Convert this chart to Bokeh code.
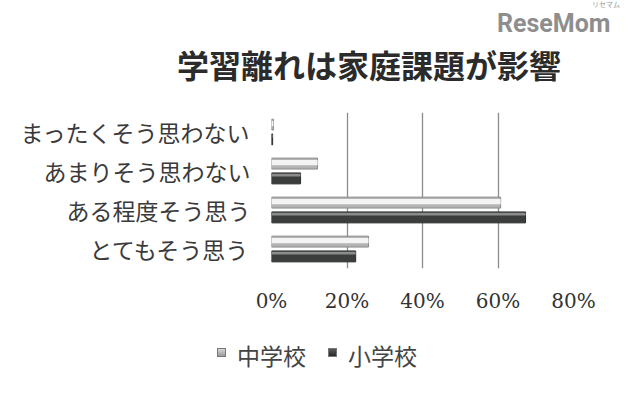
from bokeh.plotting import figure
from bokeh.layouts import column
from bokeh.models import Range1d, FactorRange, Div, FixedTicker, ColumnDataSource
from bokeh.transform import dodge
from bokeh.embed import file_html
from bokeh.resources import INLINE

# ---- data ----
categories = ["とてもそう思う", "ある程度そう思う", "あまりそう思わない", "まったくそう思わない"]
junior_high = [25.7, 60.7, 12.2, 0.5]   # 中学校
elementary = [22.3, 67.3, 7.7, 0.3]     # 小学校
series_names = ["中学校", "小学校"]
x_ticks = [0, 20, 40, 60, 80]
x_tick_labels = ["0%", "20%", "40%", "60%", "80%"]
chart_title = "学習離れは家庭課題が影響"
logo_text = "ReseMom"
logo_kana = "リセマム"

src = ColumnDataSource(dict(cat=categories, jh=junior_high, el=elementary))

JP = "Noto Sans CJK JP"
JH_COLOR = "#b4b4b4"
EL_COLOR = "#3a3d3c"

# ---- header strip: title + logo ----
header = Div(text=(
    f'<div style="position:relative;width:624px;height:112px;">'
    f'<div style="position:absolute;left:497px;top:12px;font-family:Roboto;font-weight:bold;'
    f'font-size:25px;line-height:24px;color:#8e8e8e;white-space:nowrap">{logo_text}</div>'
    f'<div style="position:absolute;left:592px;top:1px;font-family:\'{JP}\';'
    f'font-size:7px;line-height:7px;color:#9a9a9a;white-space:nowrap">{logo_kana}</div>'
    f'<div style="position:absolute;left:177px;top:48px;font-family:\'{JP}\';font-weight:bold;'
    f'font-size:32px;line-height:32px;color:#2b2b2b;white-space:nowrap">{chart_title}</div>'
    f'</div>'), width=624, height=112, margin=0)

# ---- chart ----
p = figure(width=624, height=218, output_backend="svg", toolbar_location=None, title=None,
           x_range=Range1d(0, 80), y_range=FactorRange(*categories),
           min_border_left=271, min_border_right=51, min_border_top=0, min_border_bottom=62,
           outline_line_color=None, background_fill_color="white", border_fill_color="white")

# bars: 中学校 (light) above, 小学校 (dark) below
p.hbar(y=dodge("cat", 0.19, range=p.y_range), right="jh", left=0, height=0.28, source=src,
       fill_color=JH_COLOR, line_color="#8a8a8a", line_width=1)
p.hbar(y=dodge("cat", 0.215, range=p.y_range), right="jh", left=0, height=0.14, source=src,
       fill_color="#f4f4f4", line_color=None)
p.hbar(y=dodge("cat", -0.19, range=p.y_range), right="el", left=0, height=0.28, source=src,
       fill_color=EL_COLOR, line_color="#2a2a2a", line_width=1)
p.hbar(y=dodge("cat", -0.105, range=p.y_range), right="el", left=0, height=0.07, source=src,
       fill_color="#8a8c8b", line_color=None)

# axes
p.xaxis.ticker = FixedTicker(ticks=x_ticks)
p.xaxis.major_label_overrides = {t: l for t, l in zip(x_ticks, x_tick_labels)}
p.xaxis.axis_line_color = None
p.xaxis.major_tick_line_color = None
p.xaxis.minor_tick_line_color = None
p.xaxis.major_label_text_font = "DejaVu Serif"
p.xaxis.major_label_text_font_size = "20px"
p.xaxis.major_label_text_color = "#333333"
p.xaxis.major_label_standoff = 14

p.yaxis.axis_line_color = None
p.yaxis.major_tick_line_color = None
p.yaxis.minor_tick_line_color = None
p.yaxis.major_label_text_font = JP
p.yaxis.major_label_text_font_size = "23px"
p.yaxis.major_label_text_color = "#3a3a3a"
p.yaxis.major_label_standoff = 15

p.ygrid.grid_line_color = None
p.xgrid.ticker = FixedTicker(ticks=x_ticks)
p.xgrid.grid_line_color = "#8c8c8c"
p.xgrid.grid_line_width = 1.3

# ---- legend strip ----
swatches = ["linear-gradient(#d8d8d8, #9a9a9a)", "linear-gradient(#5a5a5a, #2a2a2a)"]
items_html = ""
for name, sw in zip(series_names, swatches):
    items_html += (f'<span style="display:inline-block;width:9px;height:9px;background:{sw};'
                   f'border:1px solid #777;box-sizing:border-box;position:relative;top:-3px;'
                   f'margin-right:11px"></span>'
                   f'<span style="margin-right:22px">{name}</span>')
legend_div = Div(text=(f'<div style="display:flex;align-items:center;padding-left:217px;'
                       f'padding-top:13px;font-family:\'{JP}\';font-size:23px;line-height:24px;'
                       f'color:#444444;white-space:nowrap">{items_html}</div>'),
                 width=624, height=54, margin=0)

layout = column(header, p, legend_div, spacing=0)
open("out.html", "w").write(file_html(layout, INLINE))
